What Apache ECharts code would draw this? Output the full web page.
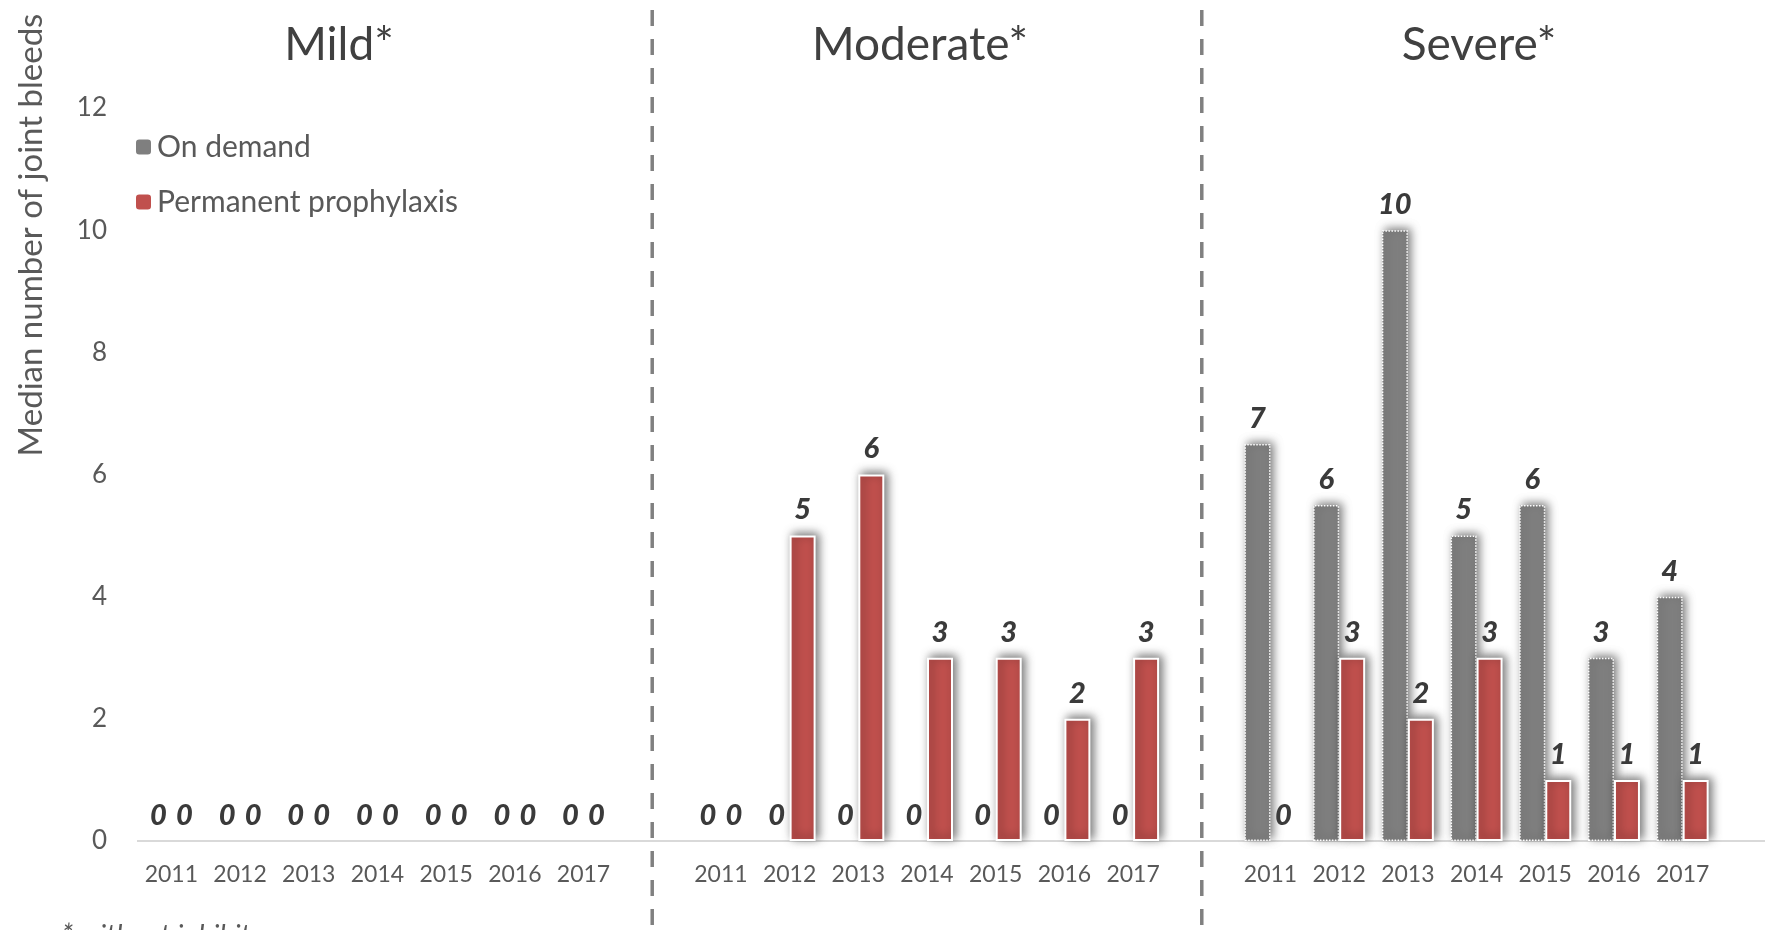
<!DOCTYPE html>
<html>
<head>
<meta charset="utf-8">
<title>Median number of joint bleeds</title>
<script src="https://cdn.jsdelivr.net/npm/echarts@6/dist/echarts.min.js"></script>
<style>
  html, body { margin: 0; padding: 0; background: #ffffff; }
  #chart { width: 1765px; height: 930px; }
</style>
</head>
<body>
<div id="chart"></div>
<script>
// Years shown under each severity panel
const years = ['2011', '2012', '2013', '2014', '2015', '2016', '2017'];
const groups = ['Mild*', 'Moderate*', 'Severe*'];

// Median joint bleeds, on-demand treatment
const onDemandMild = [0, 0, 0, 0, 0, 0, 0];
const onDemandModerate = [0, 0, 0, 0, 0, 0, 0];
const onDemandSevere = [6.5, 5.5, 10, 5, 5.5, 3, 4];

// Median joint bleeds, permanent prophylaxis
const prophylaxisMild = [0, 0, 0, 0, 0, 0, 0];
const prophylaxisModerate = [0, 5, 6, 3, 3, 2, 3];
const prophylaxisSevere = [0, 3, 2, 3, 1, 1, 1];

const yTicks = [0, 2, 4, 6, 8, 10, 12];

const FONT = 'Lato, "Open Sans", sans-serif';
const GRAY = '#7f7f7f';
const RED = '#c0504d';
const TEXT = '#595959';

// One category axis: three panels of seven years, separated by an empty slot
const categories = [];
const gapIndices = [];
const odData = [];
const prData = [];
const odGroups = [onDemandMild, onDemandModerate, onDemandSevere];
const prGroups = [prophylaxisMild, prophylaxisModerate, prophylaxisSevere];
groups.forEach((g, gi) => {
  if (gi > 0) {
    gapIndices.push(categories.length);
    categories.push('gap' + gi);
    odData.push(null);
    prData.push(null);
  }
  years.forEach((y, yi) => {
    categories.push(g + '|' + y);
    odData.push(odGroups[gi][yi]);
    prData.push(prGroups[gi][yi]);
  });
});

function styled(values) {
  // zero-height bars carry no outline or shadow
  return values.map(v => {
    if (v === null) return null;
    if (v === 0) return { value: 0, itemStyle: { borderWidth: 0, shadowBlur: 0, shadowColor: 'transparent' } };
    return { value: v };
  });
}

const valueLabel = {
  show: true,
  position: 'top',
  distance: 11,
  fontFamily: FONT,
  fontSize: 29,
  fontWeight: 900,
  fontStyle: 'italic',
  color: '#3a3a3a',
  formatter: p => (p.value === null || p.value === undefined) ? '' : String(Math.round(p.value))
};

const GRID_LEFT = 137;

const option = {
  animation: false,
  backgroundColor: '#ffffff',
  textStyle: { fontFamily: FONT },
  title: [
    { text: groups[0], left: 334, top: 17, textAlign: 'center' },
    { text: groups[1], left: 915, top: 17, textAlign: 'center' },
    { text: groups[2], left: 1474, top: 17, textAlign: 'center' }
  ].map(t => Object.assign(t, {
    textStyle: { fontFamily: FONT, fontSize: 46, fontWeight: 'normal', color: '#404040' }
  })),
  legend: {
    orient: 'vertical',
    left: 129,
    top: 126,
    itemWidth: 17,
    itemHeight: 17,
    itemGap: 23,
    itemTextGap: 11,
    selectedMode: false,
    textStyle: { fontFamily: FONT, fontSize: 30, color: TEXT, lineHeight: 32 },
    data: ['On demand', 'Permanent prophylaxis']
  },
  grid: { left: GRID_LEFT, right: 48, top: 108, bottom: 89, containLabel: false, outerBoundsMode: 'none' },
  xAxis: {
    type: 'category',
    data: categories,
    axisLine: { show: false },
    axisTick: { show: false },
    axisLabel: {
      interval: 0,
      margin: 22,
      fontFamily: FONT,
      fontSize: 23,
      color: TEXT,
      formatter: v => v.indexOf('|') >= 0 ? v.split('|')[1] : ''
    },
    splitLine: { show: false }
  },
  yAxis: {
    type: 'value',
    min: yTicks[0],
    max: yTicks[yTicks.length - 1],
    interval: 2,
    axisLine: { show: false },
    axisTick: { show: false },
    splitLine: { show: false },
    axisLabel: { margin: 30, fontFamily: FONT, fontSize: 26, color: TEXT }
  },
  series: [
    {
      name: 'On demand',
      type: 'bar',
      barWidth: 26,
      barGap: '0%',
      data: styled(odData),
      itemStyle: {
        color: GRAY,
        borderColor: '#ffffff',
        borderWidth: 1.5,
        borderType: 'dotted',
        shadowColor: 'rgba(0,0,0,0.55)',
        shadowBlur: 10,
        shadowOffsetX: 3,
        shadowOffsetY: -2
      },
      label: valueLabel
    },
    {
      name: 'Permanent prophylaxis',
      type: 'bar',
      barWidth: 26,
      barGap: '0%',
      data: styled(prData),
      itemStyle: {
        color: RED,
        borderColor: '#ffffff',
        borderWidth: 2,
        shadowColor: 'rgba(0,0,0,0.55)',
        shadowBlur: 10,
        shadowOffsetX: 3,
        shadowOffsetY: -2
      },
      label: valueLabel
    }
  ]
};

const chart = echarts.init(document.getElementById('chart'), null, { renderer: 'canvas' });
chart.setOption(option);

// Axis baseline running to the right edge, panel dividers, axis title and footnote
const zeroY = chart.convertToPixel({ yAxisIndex: 0 }, 0);
const graphics = [
  {
    type: 'line',
    z: 1,
    shape: { x1: GRID_LEFT, y1: zeroY, x2: 1765, y2: zeroY },
    style: { stroke: '#d9d9d9', lineWidth: 2 }
  }
];
gapIndices.forEach(idx => {
  const x = chart.convertToPixel({ xAxisIndex: 0 }, categories[idx]);
  graphics.push({
    type: 'line',
    z: 5,
    shape: { x1: x, y1: 10, x2: x, y2: 930 },
    style: { stroke: '#808080', lineWidth: 3.5, lineDash: [16, 13] }
  });
});
graphics.push({
  type: 'text',
  x: 31,
  y: 235,
  rotation: Math.PI / 2,
  style: {
    text: 'Median number of joint bleeds',
    fontFamily: FONT,
    fontSize: 33,
    fill: TEXT,
    align: 'center',
    verticalAlign: 'middle'
  }
});
graphics.push({
  type: 'text',
  left: 62,
  top: 922,
  style: {
    text: '* without inhibitor',
    fontFamily: FONT,
    fontSize: 28,
    fontStyle: 'italic',
    fill: TEXT
  }
});
chart.setOption({ graphic: graphics });
</script>
</body>
</html>
